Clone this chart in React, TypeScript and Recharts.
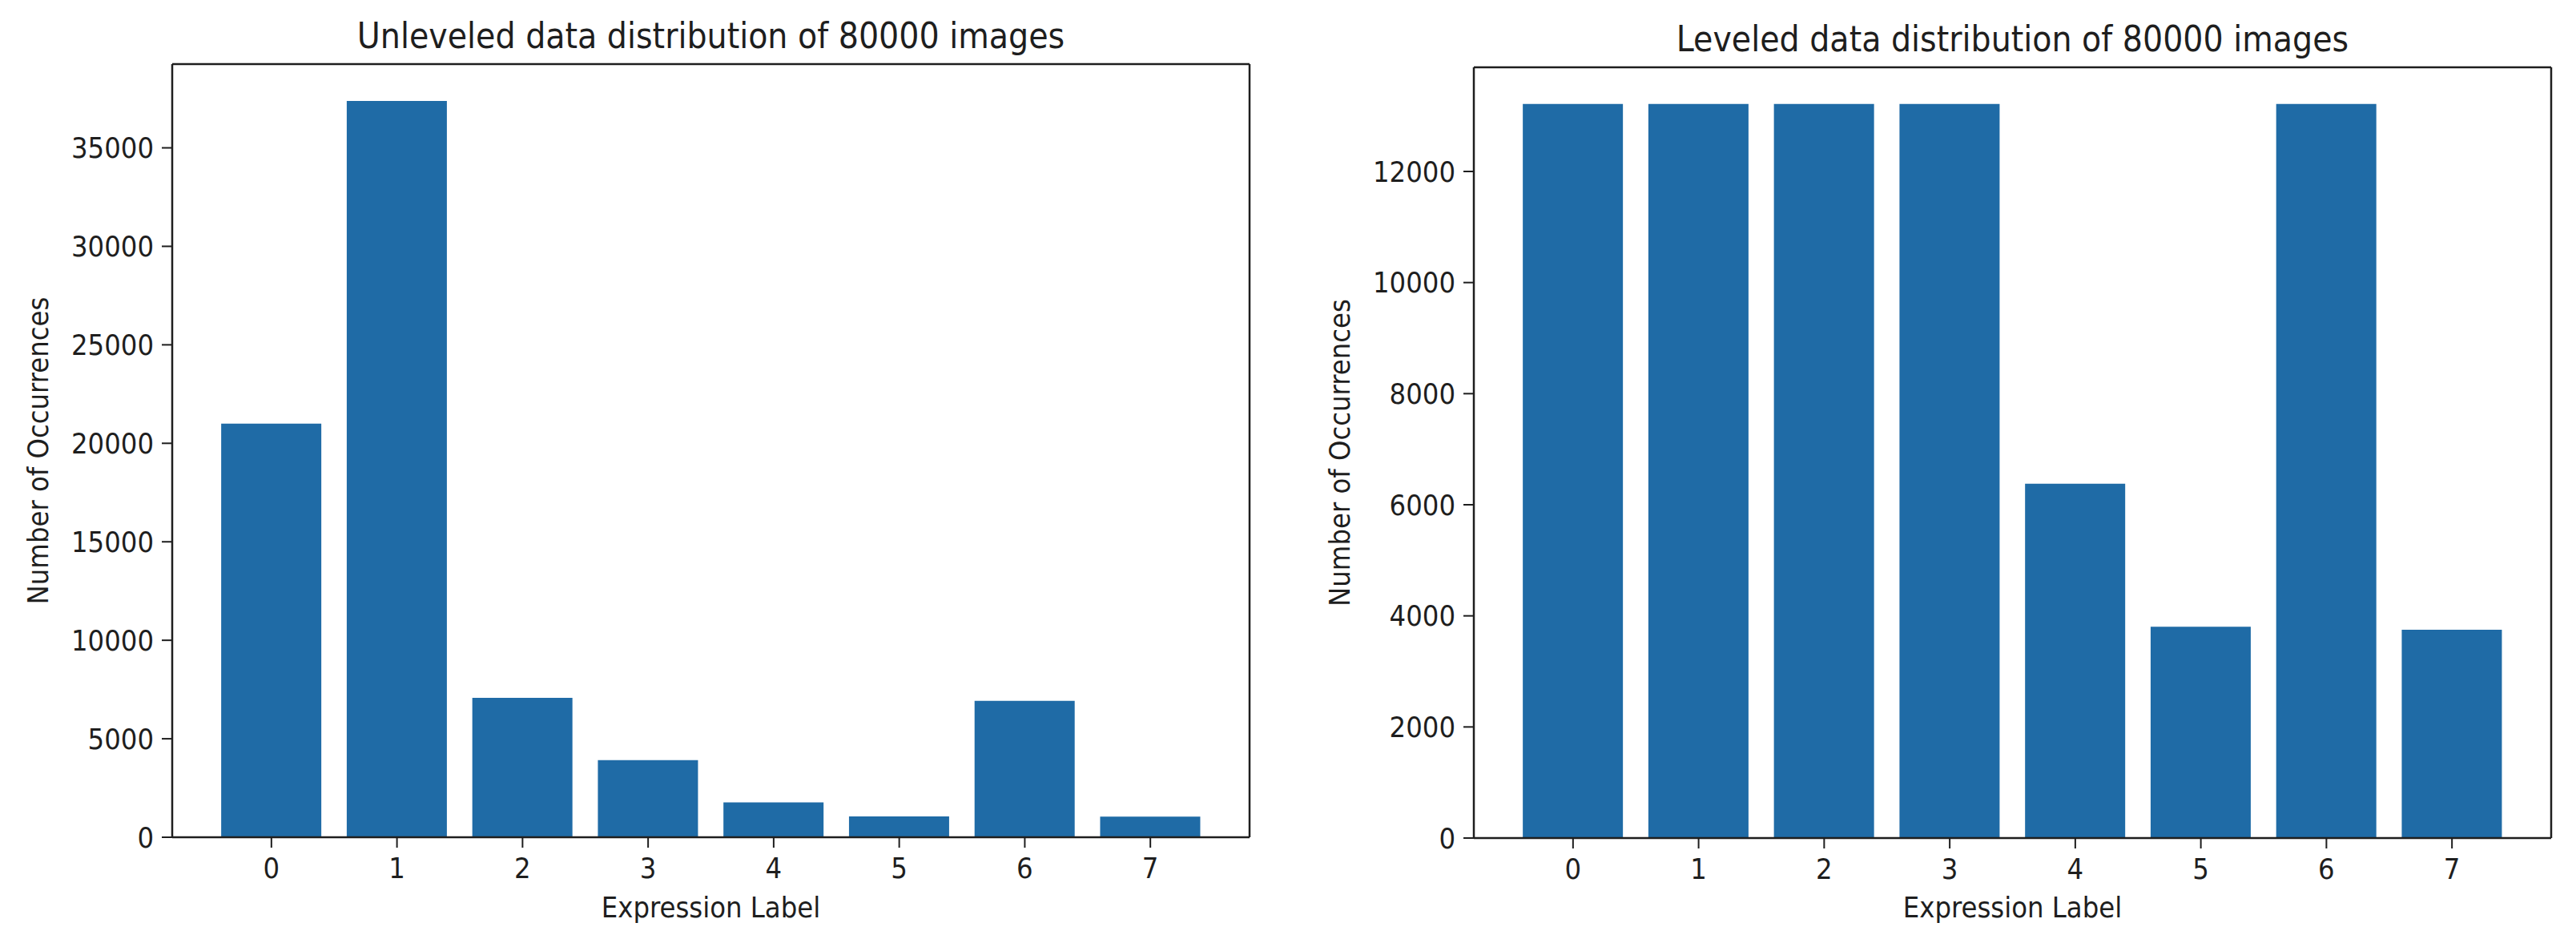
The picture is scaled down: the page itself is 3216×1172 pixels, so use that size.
import React from 'react';
import { BarChart, Bar, XAxis, YAxis } from 'recharts';

// ---------- data ----------
const expressionLabels = ['0', '1', '2', '3', '4', '5', '6', '7'];
const unleveledCounts = [21000, 37383, 7081, 3919, 1774, 1058, 6920, 1043];
const leveledCounts = [13214, 13214, 13214, 13214, 6378, 3803, 13214, 3750];
const unleveledTicks = [0, 5000, 10000, 15000, 20000, 25000, 30000, 35000];
const leveledTicks = [0, 2000, 4000, 6000, 8000, 10000, 12000];
const unleveledTitle = 'Unleveled data distribution of 80000 images';
const leveledTitle = 'Leveled data distribution of 80000 images';
const xAxisTitle = 'Expression Label';
const yAxisTitle = 'Number of Occurrences';

// ---------- style ----------
const FONT = "'DejaVu Sans Condensed', 'DejaVu Sans', sans-serif";
const INK = '#1e1e1e';
const BAR = '#1f6ba6';
const TICK_FS = 36;
const TITLE_FS = 44;

type PanelProps = {
  values: number[];
  ticks: number[];
  yMax: number;
  left: number;
  width: number;
  plot: { left: number; right: number; top: number; bottom: number };
  title: string;
};

const H = 1172;
const Y_AXIS_W = 150;
const X_AXIS_H = 90;

function Panel({ values, ticks, yMax, left, width, plot, title }: PanelProps) {
  const data = expressionLabels.map((label, i) => ({ label, value: values[i] }));
  const plotW = plot.right - plot.left;
  const unit = plotW / 8.58;
  const pad = (plotW - 8 * unit) / 2;
  const margin = {
    left: plot.left - left - Y_AXIS_W,
    right: left + width - plot.right - 1,
    top: plot.top - 1,
    bottom: H - plot.bottom - X_AXIS_H,
  };
  const tickStyle = { fill: INK, fontSize: TICK_FS, fontFamily: FONT };
  const axisLine = { stroke: INK, strokeWidth: 2.5 };
  const tickLine = { stroke: INK, strokeWidth: 2 };
  const cx = (plot.left + plot.right) / 2 - left;
  const cy = (plot.top + plot.bottom) / 2;
  return (
    <div style={{ position: 'absolute', left, top: 0, width, height: H }}>
      <BarChart
        width={width}
        height={H}
        data={data}
        margin={margin}
        barCategoryGap="10%"
      >
        <XAxis
          dataKey="label"
          xAxisId={0}
          interval={0}
          padding={{ left: pad, right: pad }}
          height={X_AXIS_H}
          tick={tickStyle}
          tickSize={13}
          tickMargin={12}
          tickLine={tickLine}
          axisLine={axisLine}
        />
        <XAxis
          dataKey="label"
          xAxisId="top"
          orientation="top"
          height={1}
          tick={false}
          tickLine={false}
          padding={{ left: pad, right: pad }}
          axisLine={axisLine}
        />
        <YAxis
          yAxisId={0}
          type="number"
          domain={[0, yMax]}
          ticks={ticks}
          interval={0}
          width={Y_AXIS_W}
          tick={tickStyle}
          tickSize={13}
          tickMargin={10}
          tickLine={tickLine}
          axisLine={axisLine}
        />
        <YAxis
          yAxisId="right"
          orientation="right"
          type="number"
          domain={[0, yMax]}
          width={1}
          tick={false}
          tickLine={false}
          axisLine={axisLine}
        />
        <Bar dataKey="value" fill={BAR} xAxisId={0} yAxisId={0} isAnimationActive={false} />
      </BarChart>
      <svg
        width={width}
        height={H}
        style={{ position: 'absolute', left: 0, top: 0, pointerEvents: 'none' }}
      >
        <text
          x={cx}
          y={plot.top - 20}
          textAnchor="middle"
          fontFamily={FONT}
          fontSize={TITLE_FS}
          fill={INK}
        >
          {title}
        </text>
        <text
          x={cx}
          y={1145}
          textAnchor="middle"
          fontFamily={FONT}
          fontSize={TICK_FS}
          fill={INK}
        >
          {xAxisTitle}
        </text>
        <text
          x={0}
          y={0}
          transform={`translate(${plot.left - left - 168}, ${cy}) rotate(-90)`}
          textAnchor="middle"
          dominantBaseline="central"
          fontFamily={FONT}
          fontSize={TICK_FS}
          fill={INK}
        >
          {yAxisTitle}
        </text>
      </svg>
    </div>
  );
}

export default function App() {
  return (
    <div
      style={{
        position: 'absolute',
        left: 0,
        top: 0,
        width: 3216,
        height: H,
        background: '#ffffff',
        overflow: 'hidden',
      }}
    >
      <Panel
        values={unleveledCounts}
        ticks={unleveledTicks}
        yMax={39252}
        left={0}
        width={1600}
        plot={{ left: 215, right: 1560, top: 80, bottom: 1045 }}
        title={unleveledTitle}
      />
      <Panel
        values={leveledCounts}
        ticks={leveledTicks}
        yMax={13875}
        left={1600}
        width={1616}
        plot={{ left: 1840, right: 3185, top: 84, bottom: 1046 }}
        title={leveledTitle}
      />
    </div>
  );
}
